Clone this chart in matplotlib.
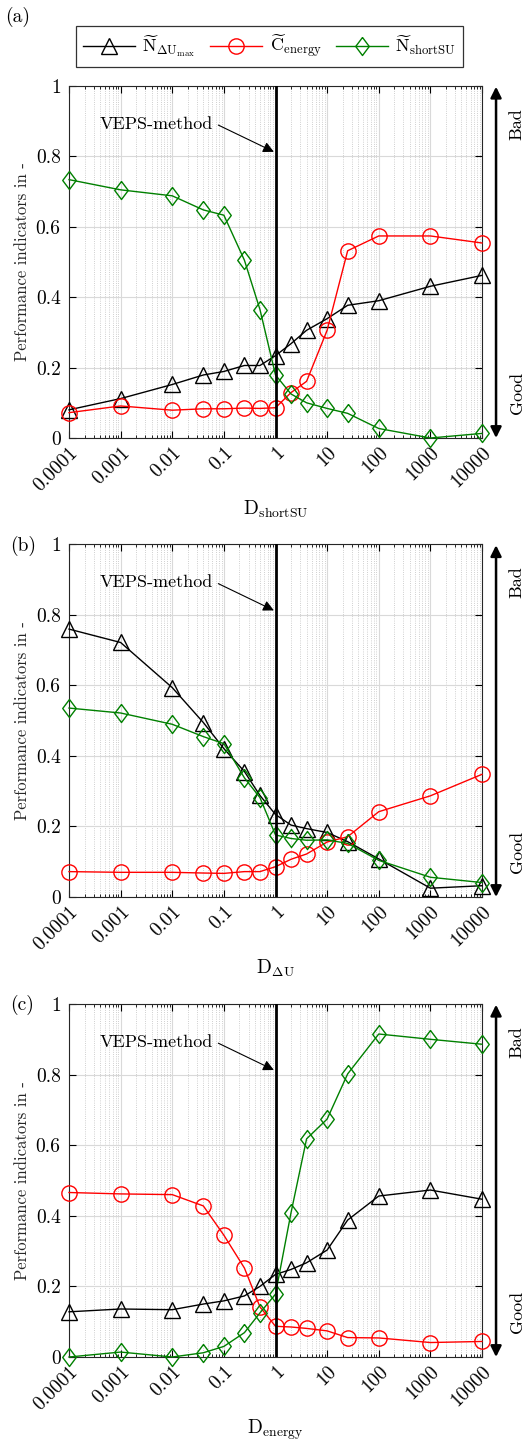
import numpy as np
import matplotlib
matplotlib.use("Agg")
import matplotlib.pyplot as plt
import matplotlib.transforms as mtransforms
from matplotlib.ticker import LogLocator, FixedLocator, NullFormatter

plt.rcParams['font.family'] = 'serif'
plt.rcParams['font.serif'] = ['cmr10', 'DejaVu Serif']
plt.rcParams['mathtext.fontset'] = 'cm'
plt.rcParams['axes.unicode_minus'] = False

# ---------------- data ----------------
x_vals = [1e-4, 1e-3, 1e-2, 0.04, 0.1, 0.25, 0.5, 1, 2, 4, 10, 25, 100, 1000, 10000]
x_ticks = [1e-4, 1e-3, 1e-2, 1e-1, 1, 10, 100, 1000, 10000]
x_tick_labels = ['0.0001', '0.001', '0.01', '0.1', '1', '10', '100', '1000', '10000']
y_ticks = [0, 0.2, 0.4, 0.6, 0.8, 1]
y_tick_labels = ['0', '0.2', '0.4', '0.6', '0.8', '1']

# panel (a): variation of D_shortSU
a_N_dU = [0.080, 0.112, 0.152, 0.179, 0.189, 0.206, 0.206, 0.234, 0.268, 0.306, 0.339, 0.377, 0.390, 0.431, 0.462]
a_C_en = [0.072, 0.091, 0.079, 0.083, 0.083, 0.085, 0.084, 0.086, 0.129, 0.161, 0.306, 0.532, 0.574, 0.574, 0.554]
a_N_sSU = [0.734, 0.705, 0.688, 0.648, 0.633, 0.505, 0.365, 0.179, 0.125, 0.100, 0.084, 0.070, 0.027, 0.000, 0.013]

# panel (b): variation of D_dU
b_N_dU = [0.760, 0.722, 0.594, 0.495, 0.421, 0.356, 0.288, 0.234, 0.204, 0.194, 0.183, 0.157, 0.108, 0.025, 0.032]
b_C_en = [0.072, 0.070, 0.070, 0.068, 0.067, 0.072, 0.072, 0.086, 0.107, 0.122, 0.156, 0.171, 0.242, 0.287, 0.348]
b_N_sSU = [0.536, 0.522, 0.490, 0.455, 0.435, 0.338, 0.282, 0.176, 0.166, 0.161, 0.162, 0.152, 0.104, 0.056, 0.041]

# panel (c): variation of D_energy
c_N_dU = [0.128, 0.136, 0.134, 0.150, 0.159, 0.173, 0.200, 0.234, 0.248, 0.267, 0.303, 0.388, 0.456, 0.473, 0.447]
c_C_en = [0.466, 0.462, 0.460, 0.428, 0.345, 0.252, 0.142, 0.087, 0.085, 0.081, 0.074, 0.055, 0.054, 0.041, 0.044]
c_N_sSU = [0.000, 0.014, 0.000, 0.012, 0.030, 0.069, 0.125, 0.178, 0.409, 0.618, 0.674, 0.802, 0.915, 0.900, 0.886]

panels = [
    ('(a)', r'$\mathrm{D}_{\mathrm{shortSU}}$', a_N_dU, a_C_en, a_N_sSU),
    ('(b)', r'$\mathrm{D}_{\Delta\mathrm{U}}$', b_N_dU, b_C_en, b_N_sSU),
    ('(c)', r'$\mathrm{D}_{\mathrm{energy}}$', c_N_dU, c_C_en, c_N_sSU),
]

series_labels = [r'$\widetilde{\mathrm{N}}_{\Delta\mathrm{U}_{\mathrm{max}}}$',
                 r'$\widetilde{\mathrm{C}}_{\mathrm{energy}}$',
                 r'$\widetilde{\mathrm{N}}_{\mathrm{shortSU}}$']
series_colors = ['black', '#ff0000', '#008000']

diamond = [(0, 1), (0.75, 0), (0, -1), (-0.75, 0), (0, 1)]
series_markers = ['^', 'o', diamond]
series_msize = [12, 11, 13]

# ---------------- figure ----------------
W, H = 525, 1442
fig = plt.figure(figsize=(W / 100, H / 100), dpi=100)

ax_px = [(86, 438), (544.5, 897), (1004, 1357)]
left_px, right_px = 69, 482

handles = None
for (plabel, xlabel, nd, ce, ns), (top, bot) in zip(panels, ax_px):
    ax = fig.add_axes([left_px / W, 1 - bot / H, (right_px - left_px) / W, (bot - top) / H])
    hs = []
    for vals, col, mk, ms, lab in zip([nd, ce, ns], series_colors, series_markers, series_msize, series_labels):
        h, = ax.plot(x_vals, vals, color=col, lw=1.0, marker=mk, ms=ms, mfc='none',
                     mec=col, mew=1.0, label=lab, zorder=3, clip_on=False)
        hs.append(h)
    handles = hs
    ax.set_xscale('log')
    ax.set_xlim(1e-4, 1e4)
    ax.set_ylim(0, 1)
    ax.xaxis.set_major_locator(FixedLocator(x_ticks))
    ax.set_xticklabels(x_tick_labels, rotation=45, ha='right', rotation_mode='anchor', fontsize=14)
    offset = mtransforms.ScaledTranslation(5 / 100, -2 / 100, fig.dpi_scale_trans)
    for lbl in ax.get_xticklabels():
        lbl.set_transform(lbl.get_transform() + offset)
    ax.xaxis.set_minor_locator(LogLocator(base=10, subs=np.arange(2, 10), numticks=20))
    ax.xaxis.set_minor_formatter(NullFormatter())
    ax.set_yticks(y_ticks)
    ax.set_yticklabels(y_tick_labels, fontsize=14)
    ax.tick_params(axis='both', which='major', direction='in', top=True, right=True, length=5, width=0.8, pad=6)
    ax.tick_params(axis='x', which='minor', direction='in', top=True, bottom=True, length=2.5, width=0.6)
    ax.tick_params(axis='x', which='major', pad=4)
    ax.grid(True, which='major', color='#d9d9d9', lw=0.8, ls='-', zorder=0)
    ax.grid(True, which='minor', axis='x', color='#c0c0c0', lw=0.6, ls=':', zorder=0)
    for s in ax.spines.values():
        s.set_linewidth(0.8)
        s.set_color('#262626')
    ax.set_xlabel(xlabel, fontsize=14, labelpad=3)
    ax.set_ylabel('Performance indicators in -', fontsize=12, labelpad=4, color='#262626')

    # vertical line at D = 1
    ax.axvline(1, color='black', lw=2.0, zorder=4)
    # VEPS-method annotation
    ax.text(0.062, 0.892, 'VEPS-method', ha='right', va='center', fontsize=13)
    ax.annotate('', xy=(0.93, 0.813), xytext=(0.078, 0.889),
                arrowprops=dict(arrowstyle='-|>', color='black', lw=0.8,
                                mutation_scale=16, shrinkA=0, shrinkB=0), zorder=5)
    # Bad / Good double arrow
    ax.annotate('', xy=(1.034, 0.998), xytext=(1.034, 0.0), xycoords='axes fraction',
                textcoords='axes fraction',
                arrowprops=dict(arrowstyle='<|-|>', color='black', lw=1.8,
                                mutation_scale=16, shrinkA=0, shrinkB=0), annotation_clip=False)
    ax.text(1.085, 0.892, 'Bad', transform=ax.transAxes, rotation=90, ha='center', va='center', fontsize=13)
    ax.text(1.085, 0.128, 'Good', transform=ax.transAxes, rotation=90, ha='center', va='center', fontsize=13)

    # panel label
    if plabel == '(a)':
        fig.text(5 / W, 1 - 17 / H, plabel, ha='left', va='center', fontsize=14)
    else:
        fig.text(10 / W, 1 - (top + 1) / H, plabel, ha='left', va='center', fontsize=14)

leg = fig.legend(handles, series_labels, loc='center', bbox_to_anchor=(269.5 / W, 1 - 46.5 / H),
                 ncol=3, fontsize=13, frameon=True, fancybox=False, edgecolor='black',
                 handlelength=2.9, columnspacing=0.8, handletextpad=0.4, borderpad=0.4)
leg.get_frame().set_linewidth(0.9)

fig.savefig('out.png', dpi=100)
